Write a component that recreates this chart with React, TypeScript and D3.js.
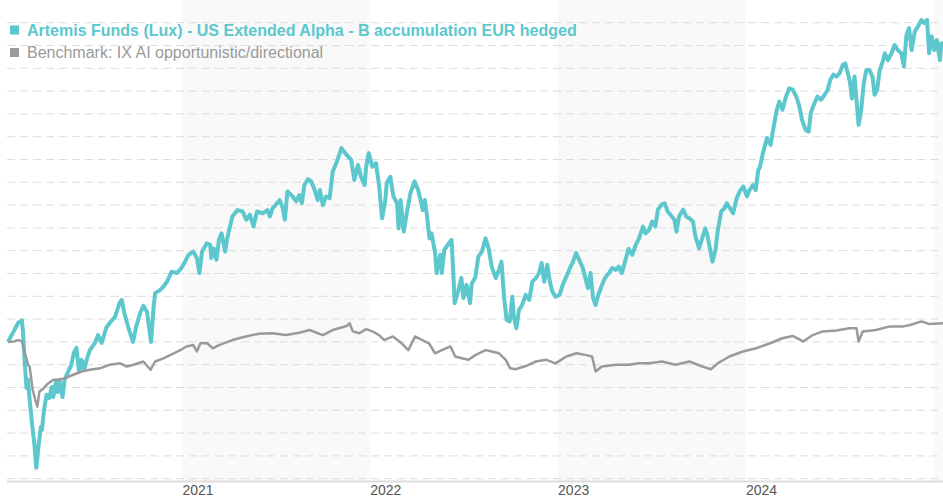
import React from "react";
import * as d3 from "d3";

const fundName = "Artemis Funds (Lux) - US Extended Alpha - B accumulation EUR hedged";
const benchName = "Benchmark: IX AI opportunistic/directional";
const yearLabels = ["2021", "2022", "2023", "2024"];
const bandYears = [2021, 2023, 2025];

const fund: [string, number][] = [
  ["2020-01-28",100.0],["2020-02-08",102.3],["2020-02-17",104.2],["2020-02-24",104.7],["2020-02-26",102.3],
  ["2020-03-01",94.6],["2020-03-04",89.9],["2020-03-07",91.7],["2020-03-10",87.3],["2020-03-16",80.7],
  ["2020-03-19",77.9],["2020-03-23",72.4],["2020-03-28",77.9],["2020-04-01",81.4],["2020-04-03",80.7],
  ["2020-04-07",85.1],["2020-04-12",88.4],["2020-04-17",87.7],["2020-04-22",90.1],["2020-04-25",87.9],
  ["2020-04-30",91.2],["2020-05-04",89.0],["2020-05-07",91.7],["2020-05-13",87.9],["2020-05-17",91.7],
  ["2020-05-23",93.2],["2020-05-30",95.0],["2020-06-04",97.6],["2020-06-09",98.7],["2020-06-14",93.4],
  ["2020-06-19",96.1],["2020-06-24",93.9],["2020-06-30",96.5],["2020-07-05",98.2],["2020-07-15",99.8],
  ["2020-07-21",101.5],["2020-07-28",99.8],["2020-08-06",103.1],["2020-08-13",104.2],["2020-08-23",105.5],
  ["2020-09-01",108.6],["2020-09-05",109.2],["2020-09-10",106.4],["2020-09-18",103.1],["2020-09-27",100.0],
  ["2020-10-03",103.3],["2020-10-11",106.4],["2020-10-17",107.9],["2020-10-24",106.6],["2020-11-01",100.0],
  ["2020-11-06",107.7],["2020-11-09",110.7],["2020-11-19",111.4],["2020-11-25",112.1],["2020-12-02",113.2],
  ["2020-12-11",115.4],["2020-12-21",115.1],["2020-12-30",116.2],
  ["2021-01-06",117.6],["2021-01-13",119.1],["2021-01-22",119.8],["2021-01-29",118.4],["2021-02-03",115.1],
  ["2021-02-08",119.8],["2021-02-17",121.6],["2021-02-24",121.3],["2021-02-26",118.4],["2021-03-03",120.5],
  ["2021-03-08",118.0],["2021-03-13",122.4],["2021-03-18",123.8],["2021-03-25",119.8],["2021-03-29",122.7],
  ["2021-04-08",127.5],["2021-04-18",128.9],["2021-04-28",128.6],["2021-05-05",126.8],["2021-05-12",127.9],
  ["2021-05-19",125.3],["2021-05-26",128.6],["2021-06-06",128.2],["2021-06-15",128.9],["2021-06-20",127.5],
  ["2021-06-25",129.3],["2021-07-01",130.0],["2021-07-09",131.1],["2021-07-15",129.3],["2021-07-19",126.8],
  ["2021-07-24",133.0],["2021-08-03",131.9],["2021-08-10",130.8],["2021-08-16",132.2],["2021-08-21",130.4],
  ["2021-08-26",134.4],["2021-09-02",135.7],["2021-09-08",135.2],["2021-09-15",133.3],["2021-09-21",131.1],
  ["2021-09-25",133.3],["2021-10-01",130.0],["2021-10-07",131.9],["2021-10-14",131.5],["2021-10-20",137.3],
  ["2021-10-28",139.5],["2021-11-06",142.5],["2021-11-16",141.0],["2021-11-25",139.9],["2021-12-01",135.5],
  ["2021-12-08",138.8],["2021-12-14",136.2],["2021-12-21",134.4],["2021-12-24",138.4],["2021-12-29",141.4],
  ["2022-01-05",138.4],["2022-01-12",139.2],["2022-01-18",134.4],["2022-01-24",127.1],["2022-01-30",130.8],
  ["2022-02-02",134.8],["2022-02-09",136.2],["2022-02-15",131.9],["2022-02-22",130.4],["2022-02-25",124.9],
  ["2022-03-01",131.1],["2022-03-07",124.2],["2022-03-14",128.9],["2022-03-20",132.6],["2022-03-28",135.2],
  ["2022-04-04",133.3],["2022-04-08",131.5],["2022-04-13",128.9],["2022-04-17",131.1],["2022-04-21",127.9],
  ["2022-04-26",122.7],["2022-04-30",123.8],["2022-05-07",119.5],["2022-05-10",115.1],["2022-05-17",119.1],
  ["2022-05-20",115.1],["2022-05-25",120.2],["2022-06-01",121.3],["2022-06-08",122.4],["2022-06-11",115.8],
  ["2022-06-14",108.5],["2022-06-20",110.7],["2022-06-27",114.0],["2022-07-01",109.6],["2022-07-07",112.5],
  ["2022-07-14",108.5],["2022-07-17",112.7],["2022-07-24",114.1],["2022-07-30",118.7],["2022-08-06",119.8],
  ["2022-08-13",122.7],["2022-08-19",120.5],["2022-08-25",116.5],["2022-09-02",114.0],["2022-09-08",115.8],
  ["2022-09-13",117.6],["2022-09-18",109.9],["2022-09-23",104.8],["2022-09-29",104.5],["2022-10-04",109.9],
  ["2022-10-07",105.5],["2022-10-12",103.0],["2022-10-17",107.0],["2022-10-23",108.1],["2022-10-30",110.3],
  ["2022-11-06",109.2],["2022-11-12",113.2],["2022-11-19",114.0],["2022-11-25",115.1],["2022-11-30",117.3],
  ["2022-12-05",113.2],["2022-12-11",116.9],["2022-12-16",113.2],["2022-12-21",111.0],["2022-12-27",109.9],
  ["2023-01-04",110.3],["2023-01-10",112.5],["2023-01-17",114.3],["2023-01-24",116.2],["2023-01-30",117.6],
  ["2023-02-05",119.5],["2023-02-11",118.0],["2023-02-18",116.2],["2023-02-24",113.6],["2023-02-28",111.8],
  ["2023-03-05",115.1],["2023-03-10",109.6],["2023-03-15",108.1],["2023-03-20",110.3],["2023-03-26",112.1],
  ["2023-04-02",114.0],["2023-04-10",115.1],["2023-04-16",116.2],["2023-04-23",115.8],["2023-04-29",116.5],
  ["2023-05-05",115.1],["2023-05-12",118.0],["2023-05-18",120.4],["2023-05-25",119.1],["2023-06-01",121.3],
  ["2023-06-07",122.6],["2023-06-15",125.3],["2023-06-20",123.8],["2023-06-27",124.6],["2023-07-03",126.4],
  ["2023-07-09",125.3],["2023-07-14",129.0],["2023-07-21",130.1],["2023-07-27",130.4],["2023-08-02",128.6],
  ["2023-08-10",127.5],["2023-08-15",126.8],["2023-08-19",124.2],["2023-08-24",127.5],["2023-09-01",129.0],
  ["2023-09-07",127.5],["2023-09-13",127.1],["2023-09-20",126.4],["2023-09-25",123.1],["2023-10-02",120.5],
  ["2023-10-08",122.7],["2023-10-14",124.9],["2023-10-18",123.5],["2023-10-23",120.5],["2023-10-28",117.6],
  ["2023-11-03",120.2],["2023-11-07",124.2],["2023-11-14",128.6],["2023-11-20",129.3],["2023-11-25",130.4],
  ["2023-12-01",129.3],["2023-12-07",128.2],["2023-12-14",131.5],["2023-12-20",133.0],["2023-12-27",134.1],
  ["2024-01-03",131.9],["2024-01-08",133.3],["2024-01-15",134.4],["2024-01-20",133.3],["2024-01-25",137.7],
  ["2024-01-28",138.2],["2024-02-03",141.4],["2024-02-11",144.7],["2024-02-18",143.2],["2024-02-24",147.2],
  ["2024-03-01",150.9],["2024-03-06",152.7],["2024-03-12",150.9],["2024-03-19",153.8],["2024-03-25",155.6],
  ["2024-04-01",155.3],["2024-04-08",153.8],["2024-04-14",151.6],["2024-04-19",148.7],["2024-04-26",146.5],
  ["2024-05-02",146.1],["2024-05-06",150.2],["2024-05-13",152.3],["2024-05-19",153.8],["2024-05-26",153.1],
  ["2024-06-02",154.2],["2024-06-08",155.3],["2024-06-13",157.5],["2024-06-19",158.6],["2024-06-25",158.2],
  ["2024-07-01",158.9],["2024-07-07",160.7],["2024-07-12",161.1],["2024-07-17",158.9],["2024-07-21",157.1],
  ["2024-07-25",153.4],["2024-07-30",158.2],["2024-08-04",151.6],["2024-08-07",147.6],["2024-08-12",150.9],
  ["2024-08-17",156.7],["2024-08-22",159.6],["2024-08-28",159.6],["2024-09-03",158.2],["2024-09-07",154.2],
  ["2024-09-12",155.3],["2024-09-17",159.6],["2024-09-22",161.1],["2024-09-27",163.3],["2024-10-03",161.8],
  ["2024-10-10",163.3],["2024-10-16",165.1],["2024-10-22",164.0],["2024-10-29",163.3],["2024-11-03",160.4],
  ["2024-11-08",167.3],["2024-11-13",168.8],["2024-11-18",164.0],["2024-11-24",168.0],["2024-12-02",169.5],
  ["2024-12-07",170.6],["2024-12-13",169.9],["2024-12-18",170.6],["2024-12-22",163.3],["2024-12-27",167.0],
  ["2025-01-01",164.0],["2025-01-06",166.2],["2025-01-12",161.8],["2025-01-15",165.5],["2025-01-18",164.0],
];

const bench: [string, number][] = [
  ["2020-01-28",100.0],["2020-02-08",100.1],["2020-02-18",100.4],["2020-02-24",100.1],["2020-03-01",97.5],
  ["2020-03-07",95.0],["2020-03-10",94.6],["2020-03-16",89.5],["2020-03-21",87.3],["2020-03-25",85.8],
  ["2020-03-29",89.1],["2020-04-06",89.8],["2020-04-15",90.9],["2020-04-25",91.7],["2020-05-04",91.7],
  ["2020-05-17",92.0],["2020-06-03",92.8],["2020-06-19",93.5],["2020-07-05",93.9],["2020-07-25",94.2],
  ["2020-08-13",95.0],["2020-09-02",95.3],["2020-09-15",94.6],["2020-09-28",95.0],["2020-10-17",95.7],
  ["2020-10-31",93.9],["2020-11-09",95.7],["2020-11-25",96.4],["2020-12-15",97.5],["2020-12-28",98.2],
  ["2021-01-09",99.0],["2021-01-22",99.3],["2021-01-29",97.9],["2021-02-05",99.7],["2021-02-18",99.7],
  ["2021-03-01",98.6],["2021-03-13",99.3],["2021-04-08",100.4],["2021-05-04",101.2],["2021-05-30",101.8],
  ["2021-06-25",101.9],["2021-07-21",101.5],["2021-08-16",102.0],["2021-09-05",102.6],["2021-10-01",101.5],
  ["2021-10-20",102.6],["2021-11-16",103.5],["2021-11-22",104.1],["2021-11-28",102.3],["2021-12-11",101.9],
  ["2021-12-24",102.8],["2022-01-05",102.3],["2022-01-18",101.5],["2022-01-28",100.4],["2022-02-14",101.2],
  ["2022-03-03",99.7],["2022-03-16",98.2],["2022-03-29",101.2],["2022-04-12",100.4],["2022-04-25",99.7],
  ["2022-05-07",97.5],["2022-05-20",98.2],["2022-06-06",99.0],["2022-06-15",96.8],["2022-06-28",96.4],
  ["2022-07-11",96.1],["2022-07-24",97.1],["2022-08-13",98.2],["2022-08-25",97.9],["2022-09-08",97.5],
  ["2022-09-21",96.1],["2022-09-30",94.2],["2022-10-10",94.0],["2022-10-30",94.7],["2022-11-19",95.7],
  ["2022-12-08",96.1],["2022-12-27",95.3],["2023-01-17",96.8],["2023-02-06",97.5],["2023-02-25",97.1],
  ["2023-03-08",96.8],["2023-03-15",93.5],["2023-03-27",94.6],["2023-04-23",95.0],["2023-05-18",95.0],
  ["2023-06-07",95.3],["2023-06-27",95.3],["2023-07-22",95.7],["2023-08-17",95.0],["2023-09-13",95.7],
  ["2023-10-08",94.6],["2023-10-25",94.0],["2023-11-07",95.3],["2023-11-30",96.8],["2023-12-26",97.9],
  ["2024-01-21",98.6],["2024-02-17",99.7],["2024-03-12",100.8],["2024-04-01",101.3],["2024-04-21",100.1],
  ["2024-05-10",101.5],["2024-05-29",102.3],["2024-06-25",102.5],["2024-07-20",103.0],["2024-08-03",103.0],
  ["2024-08-07",100.1],["2024-08-15",102.3],["2024-09-09",102.6],["2024-10-07",103.4],["2024-11-02",103.4],
  ["2024-11-15",103.7],["2024-12-07",104.5],["2024-12-23",103.9],["2025-01-18",104.1],
];

const W = 943;
const H = 500;
const FUND_COLOR = "#5cc7cd";
const BENCH_COLOR = "#9a9a9a";

export default function App() {
  const parse = d3.timeParse("%Y-%m-%d");
  const fundData = fund.map(([d, v]) => ({ date: parse(d) as Date, value: v }));
  const benchData = bench.map(([d, v]) => ({ date: parse(d) as Date, value: v }));

  const x = d3
    .scaleTime()
    .domain([parse("2020-01-28") as Date, parse("2025-01-18") as Date])
    .range([8, 943]);
  const y = d3.scaleLinear().domain([70, 170]).range([478.7, 22.7]);

  const line = d3
    .line<{ date: Date; value: number }>()
    .x((d) => x(d.date))
    .y((d) => y(d.value));

  const grid = y.ticks(20);
  const axisY = 481;

  return (
    <svg
      width={W}
      height={H}
      style={{ position: "absolute", left: 0, top: 0, background: "#fff" }}
      fontFamily="'Liberation Sans', Arial, sans-serif"
    >
      {bandYears.map((yr) => {
        const x0 = x(new Date(yr, 0, 1));
        const x1 = Math.min(W, x(new Date(yr + 1, 0, 1)));
        return <rect key={yr} x={x0} y={0} width={Math.max(0, x1 - x0)} height={axisY} fill="#f9f9f9" />;
      })}
      {grid.map((g) => (
        <line
          key={g}
          x1={7}
          x2={W}
          y1={y(g)}
          y2={y(g)}
          stroke="#dcdcdc"
          strokeWidth={1}
          strokeDasharray="8,5"
        />
      ))}
      <line x1={7} x2={W} y1={axisY + 0.5} y2={axisY + 0.5} stroke="#dddddd" strokeWidth={2} />
      {yearLabels.map((lbl) => (
        <text key={lbl} x={x(new Date(+lbl, 0, 1))} y={495} fontSize={14} fill="#555">
          {lbl}
        </text>
      ))}
      <path d={line(fundData) || ""} fill="none" stroke={FUND_COLOR} strokeWidth={4} strokeLinejoin="round" />
      <path d={line(benchData) || ""} fill="none" stroke={BENCH_COLOR} strokeWidth={2.5} strokeLinejoin="round" />
      <rect x={10} y={25.5} width={9} height={9} fill={FUND_COLOR} />
      <text x={27} y={35.5} fontSize={16} fontWeight="bold" fill={FUND_COLOR}>
        {fundName}
      </text>
      <rect x={10} y={48} width={9} height={9} fill={BENCH_COLOR} />
      <text x={27} y={58} fontSize={16} fill={BENCH_COLOR}>
        {benchName}
      </text>
    </svg>
  );
}
